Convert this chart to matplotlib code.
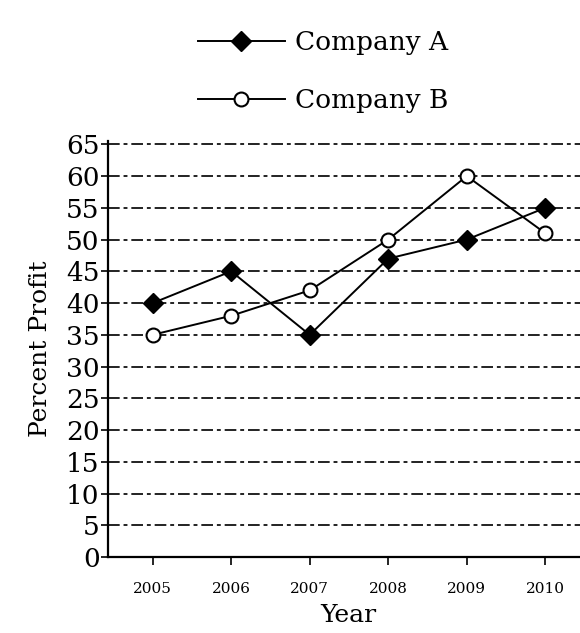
import matplotlib.pyplot as plt

years = [2005, 2006, 2007, 2008, 2009, 2010]
company_a = [40, 45, 35, 47, 50, 55]
company_b = [35, 38, 42, 50, 60, 51]
y_ticks = list(range(0, 70, 5))

plt.rcParams['font.family'] = ['DejaVu Serif']

fig = plt.figure(figsize=(5.8, 6.33), dpi=100)
ax = fig.add_axes([0.186, 0.12, 0.83, 0.658])

# dashed horizontal guide lines at each tick
for t in y_ticks[1:]:
    ax.axhline(t, color='#222222', linestyle=(0, (6, 2, 2, 2)), linewidth=1.4, zorder=1)

ax.plot(years, company_a, color='black', linewidth=1.4, marker='D', markersize=10,
        markerfacecolor='black', label='Company A', zorder=3)
ax.plot(years, company_b, color='black', linewidth=1.4, marker='o', markersize=10,
        markerfacecolor='white', markeredgewidth=1.5, label='Company B', zorder=3)

ax.set_xlim(2004.43, 2010.56)
ax.set_ylim(0, 65.6)
ax.set_xticks(years)
ax.set_xticklabels([str(y) for y in years], fontsize=11)
ax.set_yticks(y_ticks)
ax.set_yticklabels([str(t) for t in y_ticks], fontsize=19)
ax.tick_params(axis='y', length=5, width=1.2, pad=1)
ax.tick_params(axis='x', length=6, width=1.2, pad=12)

for side in ['top', 'right']:
    ax.spines[side].set_visible(False)
for side in ['left', 'bottom']:
    ax.spines[side].set_linewidth(1.6)

ax.set_xlabel('Year', fontsize=18, labelpad=6)
ax.set_ylabel('Percent Profit', fontsize=18, labelpad=10)

handles, labels = ax.get_legend_handles_labels()
fig.legend(handles, labels, loc='upper left', bbox_to_anchor=(0.3, 0.99),
           frameon=False, fontsize=19, handlelength=3.3, labelspacing=1.25,
           handletextpad=0.4)

fig.savefig('out.png', dpi=100)
